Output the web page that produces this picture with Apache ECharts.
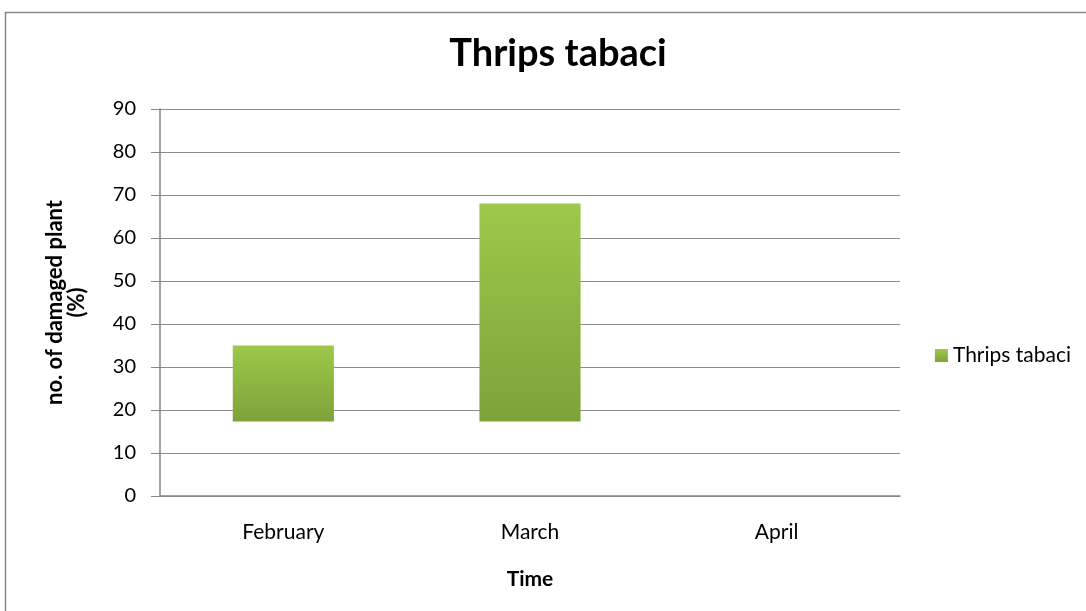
<!DOCTYPE html>
<html>
<head>
<meta charset="utf-8">
<script src="https://cdn.jsdelivr.net/npm/echarts@6/dist/echarts.min.js"></script>
<style>
  html, body { margin: 0; padding: 0; background: #fff; }
  #chart { width: 1086px; height: 611px; }
</style>
</head>
<body>
<div id="chart"></div>
<script>
var months = ["February", "March", "April"];
var damaged = [35, 68, null];
var yTicks = [0, 10, 20, 30, 40, 50, 60, 70, 80, 90];
// bars in the source start above zero
var barBase = 17.3;

var font = "Lato, 'Liberation Sans', sans-serif";
var green = new echarts.graphic.LinearGradient(0, 0, 0, 1, [
  { offset: 0, color: "#9dc84b" },
  { offset: 1, color: "#7ea23a" }
]);

var chart = echarts.init(document.getElementById("chart"));

var option = {
  backgroundColor: "#fff",
  animation: false,
  textStyle: { fontFamily: font },
  graphic: [
    {
      type: "rect",
      shape: { x: 5.5, y: 12.5, width: 1100, height: 620 },
      style: { fill: "none", stroke: "#878787", lineWidth: 1.5 }
    }
  ],
  title: {
    text: "Thrips tabaci",
    left: 553,
    textAlign: "center",
    top: 30,
    textStyle: { fontFamily: font, fontSize: 38, fontWeight: "bold", color: "#000" }
  },
  legend: {
    right: 10,
    top: 340,
    itemWidth: 13,
    itemHeight: 13,
    icon: "rect",
    data: [{ name: "Thrips tabaci", itemStyle: { color: green } }],
    textStyle: { fontFamily: font, fontSize: 21, color: "#000" }
  },
  grid: { left: 160, right: 186, top: 109, bottom: 115 },
  xAxis: {
    type: "category",
    data: months,
    name: "Time",
    nameLocation: "middle",
    nameGap: 73,
    nameTextStyle: { fontFamily: font, fontSize: 21, fontWeight: "bold", color: "#000" },
    axisLine: { lineStyle: { color: "#868686", width: 1.5 } },
    axisTick: { show: false },
    axisLabel: { margin: 26, fontSize: 21, color: "#000", fontFamily: font }
  },
  yAxis: {
    type: "value",
    min: yTicks[0],
    max: yTicks[yTicks.length - 1],
    interval: 10,
    name: "no. of damaged plant\n(%)",
    nameLocation: "middle",
    nameGap: 72,
    nameTextStyle: { fontFamily: font, fontSize: 22, fontWeight: "bold", color: "#000", lineHeight: 22 },
    axisLine: { show: true, lineStyle: { color: "#868686", width: 1.5 } },
    axisTick: { show: true, inside: false, length: 9, lineStyle: { color: "#868686" } },
    axisLabel: { margin: 24, fontSize: 20, color: "#000", fontFamily: font },
    splitLine: { lineStyle: { color: "#8c8c8c", width: 1 } }
  },
  series: [
    {
      name: "Thrips tabaci",
      type: "custom",
      data: damaged.map(function (v, i) { return [i, v]; }),
      encode: { x: 0, y: 1 },
      renderItem: function (params, api) {
        var v = api.value(1);
        if (v == null || isNaN(v)) return;
        var top = api.coord([api.value(0), v]);
        var bot = api.coord([api.value(0), barBase]);
        var bw = api.size([1, 0])[0] * 0.41;
        return {
          type: "rect",
          shape: { x: top[0] - bw / 2, y: top[1], width: bw, height: bot[1] - top[1] },
          style: { fill: green }
        };
      },
      itemStyle: { color: green }
    }
  ]
};

chart.setOption(option);
</script>
</body>
</html>
